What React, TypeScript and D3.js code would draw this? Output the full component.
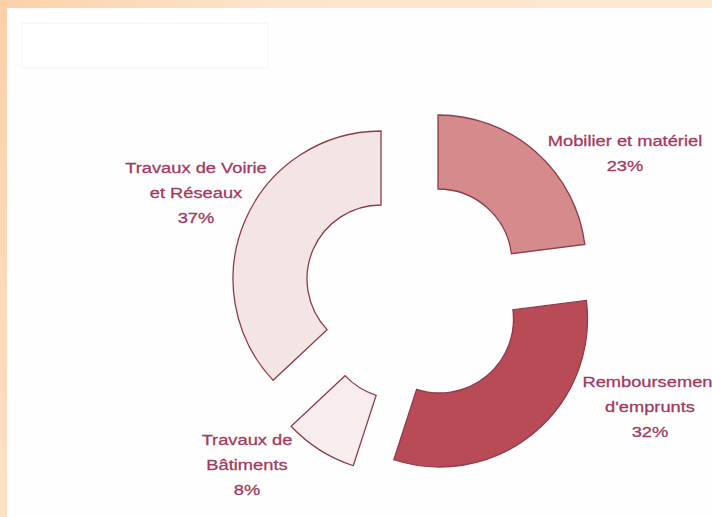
import React from "react";
import * as d3 from "d3";

// ---- data ----
const categories = [
  "Mobilier et matériel",
  "Remboursement\nd'emprunts",
  "Travaux de\nBâtiments",
  "Travaux de Voirie\net Réseaux",
];
const values = [23, 32, 8, 37];

// ---- styles / layout ----
const W = 712;
const H = 517;
const fills = ["#d58a8b", "#b84b55", "#f7eded", "#f4e5e5"];
const stroke = "#8e3b4b";
const textColor = "#a3395f";
const base = { x: 410, y: 291 };
const sliceOffsets = [
  [28, -28],
  [29.5, 28],
  [-11, 34],
  [-29, -12],
];
const labelPos = [
  [625, 146],
  [650, 387],
  [247, 445],
  [196, 173],
];
const lineGap = 25;

export default function App() {
  const pie = d3
    .pie<number>()
    .sort(null)
    .value((d) => d)
    .startAngle(0)
    .endAngle(2 * Math.PI);
  const arcs = pie(values);
  const arc = d3.arc<d3.PieArcDatum<number>>().innerRadius(74).outerRadius(148);

  return (
    <svg
      width={W}
      height={H}
      viewBox={`0 0 ${W} ${H}`}
      style={{ position: "absolute", left: 0, top: 0, display: "block" }}
    >
      <defs>
        <linearGradient id="peach" x1="0" y1="0" x2="1" y2="0">
          <stop offset="0" stopColor="#fcd1a9" />
          <stop offset="0.4" stopColor="#fde5cd" />
          <stop offset="1" stopColor="#fde8d2" />
        </linearGradient>
        <linearGradient id="peachV" x1="0" y1="0" x2="0" y2="1">
          <stop offset="0" stopColor="#fcd1a9" />
          <stop offset="1" stopColor="#fde0c4" />
        </linearGradient>
      </defs>
      <rect x={0} y={0} width={W} height={H} fill="url(#peach)" />
      <rect x={0} y={0} width={7} height={H} fill="url(#peachV)" />
      <rect x={7} y={8} width={W - 7} height={H - 8} fill="#fefefe" />
      <rect
        x={22}
        y={23}
        width={246}
        height={45}
        fill="#ffffff"
        stroke="#f8f3f6"
        strokeWidth={1.2}
      />
      {arcs.map((a, i) => (
        <path
          key={i}
          d={arc(a) || ""}
          transform={`translate(${base.x + sliceOffsets[i][0]},${base.y + sliceOffsets[i][1]})`}
          fill={fills[i]}
          stroke={stroke}
          strokeWidth={1.3}
          strokeLinejoin="miter"
        />
      ))}
      {categories.map((c, i) => {
        const lines = [...c.split("\n"), `${values[i]}%`];
        return (
          <g key={i}>
            {lines.map((ln, j) => (
              <text
                key={j}
                transform={`translate(${labelPos[i][0]},${labelPos[i][1] + j * lineGap}) scale(1.18,1)`}
                textAnchor="middle"
                fontFamily="'Liberation Sans', Arial, sans-serif"
                fontSize={15.5}
                fill={textColor}
                stroke={textColor}
                strokeWidth={0.3}
              >
                {ln}
              </text>
            ))}
          </g>
        );
      })}
    </svg>
  );
}
